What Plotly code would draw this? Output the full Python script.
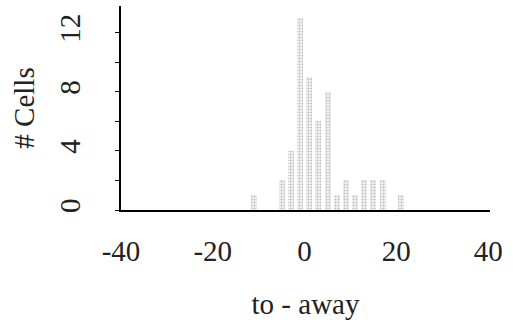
import plotly.graph_objects as go

# bin centres (to - away) and counts (# Cells)
bin_centers = [-11, -5, -3, -1, 1, 3, 5, 7, 9, 11, 13, 15, 17, 21]
cell_counts = [1, 2, 4, 13, 9, 6, 8, 1, 2, 1, 2, 2, 2, 1]

x_ticks = [-40, -20, 0, 20, 40]
y_ticks = [0, 4, 8, 12]

FONT = "Liberation Serif"

fig = go.Figure()
fig.add_trace(go.Bar(
    x=bin_centers,
    y=cell_counts,
    width=1.3,
    marker=dict(
        color="#d9d9d9",
        line=dict(width=0),
        pattern=dict(shape=".", fgcolor="#8a8a8a", bgcolor="#f4f4f4", size=3, solidity=0.4),
    ),
))

fig.update_layout(
    width=513, height=332,
    margin=dict(l=121, r=23, t=6, b=122),
    paper_bgcolor="white", plot_bgcolor="white",
    showlegend=False,
    font=dict(family=FONT, size=29, color="black"),
    bargap=0,
)
fig.update_xaxes(
    range=[-40, 40.4],
    tickvals=x_ticks,
    ticktext=[str(v) for v in x_ticks],
    ticks="", showgrid=False, zeroline=False,
    showline=True, linecolor="black", linewidth=1.5,
    ticklabelstandoff=14,
    tickfont=dict(family=FONT, size=29, color="#222"),
    title=dict(text="to - away", font=dict(family=FONT, size=29, color="#222"), standoff=28),
)
fig.update_yaxes(
    range=[0, 13.8],
    tickvals=y_ticks,
    ticktext=[str(v) for v in y_ticks],
    tickangle=-90,
    ticks="outside", ticklen=4, tickwidth=1, tickcolor="black",
    minor=dict(dtick=2, tick0=0, ticks="outside", ticklen=4, tickcolor="black"),
    showgrid=False, zeroline=False,
    showline=True, linecolor="black", linewidth=1.5,
    ticklabelstandoff=24,
    tickfont=dict(family=FONT, size=29, color="#222"),
    title=dict(text="# Cells", font=dict(family=FONT, size=29, color="#222"), standoff=11),
)

fig.write_html("out.html")
